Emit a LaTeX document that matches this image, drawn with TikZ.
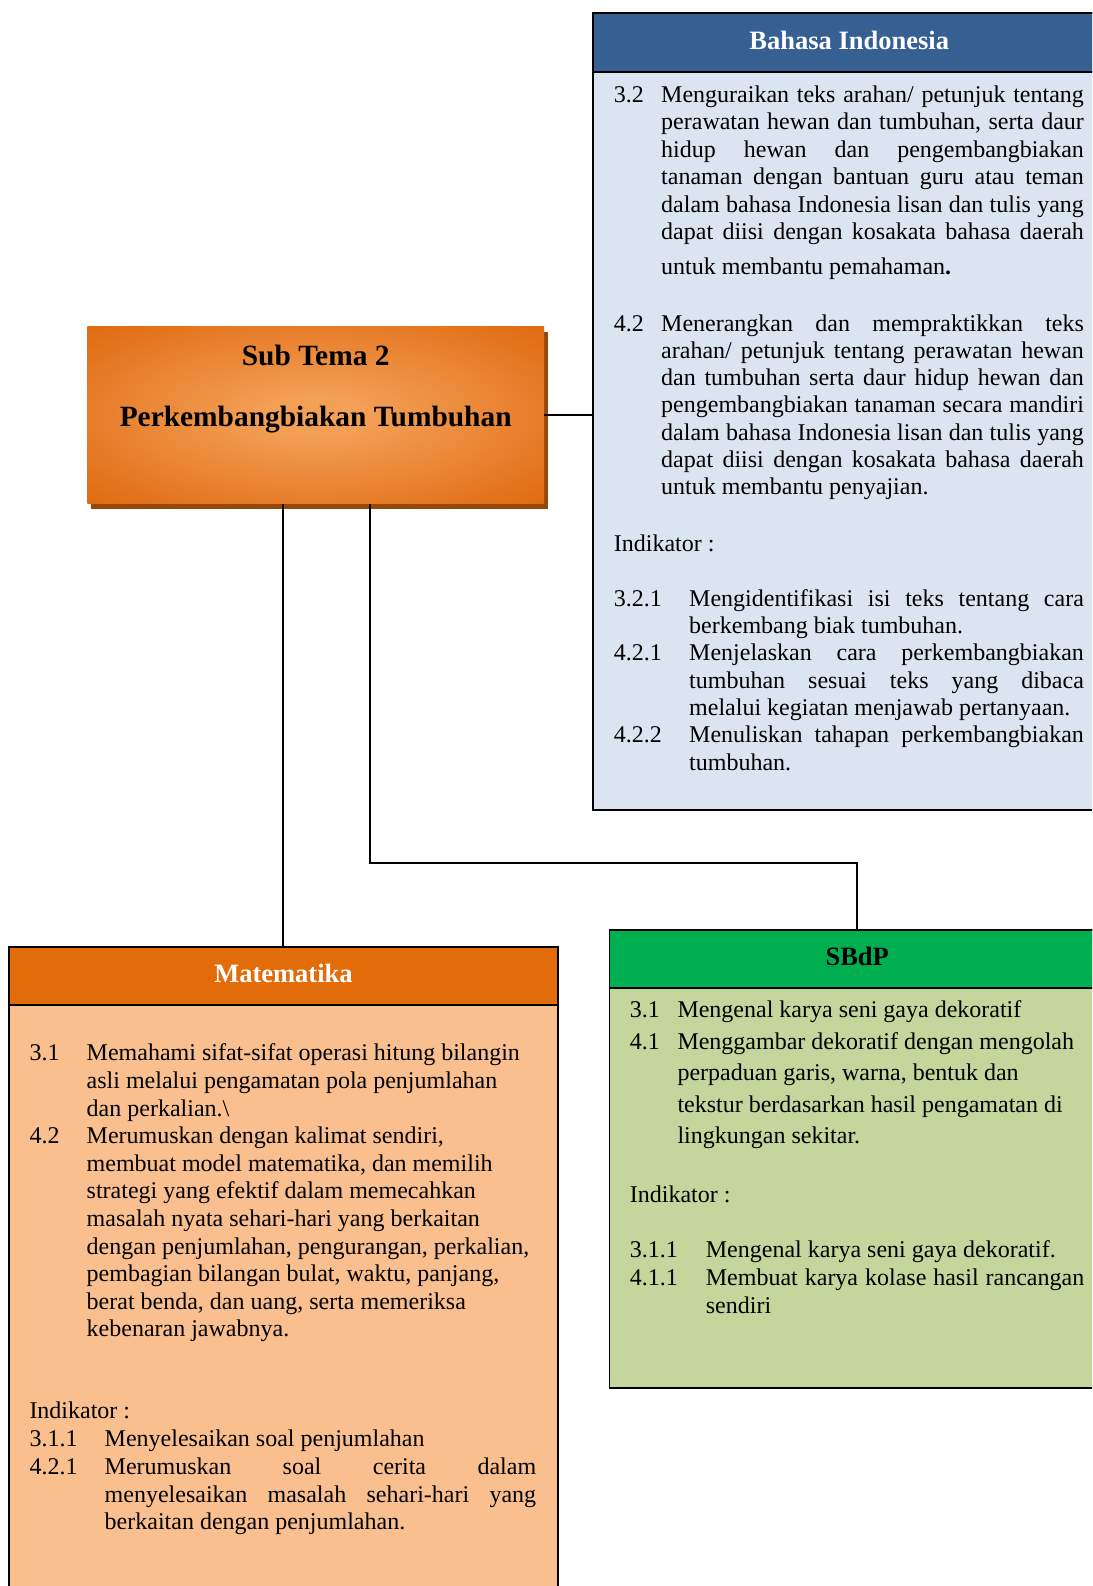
\documentclass[tikz,border=0pt]{standalone}
\usepackage{fontspec}
\setmainfont{Liberation Serif}
\usetikzlibrary{shadows}

\definecolor{biHead}{HTML}{366092}
\definecolor{biBody}{HTML}{DBE5F1}
\definecolor{mtHead}{HTML}{E36C0A}
\definecolor{mtBody}{HTML}{FABF8F}
\definecolor{sbHead}{HTML}{00B050}
\definecolor{sbBody}{HTML}{C3D69B}
\definecolor{hubIn}{HTML}{F3A057}
\definecolor{hubOut}{HTML}{E0690F}
\definecolor{hubShade}{HTML}{984807}

% soft glow for the central topic box
\pgfdeclareradialshading{hubglow}{\pgfpointorigin}{color(0bp)=(hubIn); color(5bp)=(hubIn); color(36bp)=(hubOut); color(50bp)=(hubOut)}

% lines of text: label column + justified (\Jl) or ragged (\Rl) text
\newlength\lbw
\newlength\tw
\hbadness=10000
\newcommand\Jl[2]{\hbox{\hbox to\lbw{#1\hfil}\hbox to\tw{#2}}}
\newcommand\Rl[2]{\hbox{\hbox to\lbw{#1\hfil}#2}}
\newcommand\Block[4]{\vtop{\lbw=#1\relax\tw=#2\relax\baselineskip=#3\relax\lineskiplimit=-100pt\lineskip=0pt #4}}

\tikzset{
  panel/.style={draw=black, line width=1.9pt, anchor=north west, inner sep=0pt},
  hubbox/.style={inner sep=0pt, minimum width=456.7pt, minimum height=176.6pt,
    shading=hubglow, draw=none,
    drop shadow={shadow xshift=3.5pt, shadow yshift=-5.5pt, fill=hubShade, opacity=1}},
  wire/.style={draw=black, line width=2pt},
  txt/.style={inner sep=0pt, anchor=base west, font=\fontsize{24}{27.6}\selectfont\frenchspacing},
  hdr/.style={inner sep=0pt, anchor=base, font=\fontsize{26.5}{30}\selectfont\bfseries},
  hubtxt/.style={inner sep=0pt, anchor=base, font=\fontsize{29.4}{33}\selectfont\bfseries}
}

\begin{document}
\begin{tikzpicture}[x=1pt, y=-1pt]
\useasboundingbox (0,0) rectangle (1092,1586);
\fill[white] (0,0) rectangle (1092,1586);
\clip (0,0) rectangle (1092,1586);

% central topic
\node[hubbox] (hub) at (315.7,415) {};
\node[hubtxt] (hubA) at ([yshift=50pt]hub.center) {Sub Tema 2};
\node[hubtxt] (hubB) at ([yshift=-11pt]hub.center) {Perkembangbiakan Tumbuhan};

% Bahasa Indonesia panel
\node[panel, fill=biBody, minimum width=512pt, minimum height=797.3pt] (bi) at (592.3,12) {};
\node[panel, fill=biHead, minimum width=512pt, minimum height=58.7pt] (biH) at (592.3,12) {};
\node[hdr, text=white] (biT) at ([yshift=-7pt]biH.center) {Bahasa Indonesia};

\node[txt] (bi1) at (613.7,102.3) {\Block{47.3pt}{422.7pt}{27.5pt}{%
  \Jl{3.2}{Menguraikan teks arahan/ petunjuk tentang}
  \Jl{}{perawatan hewan dan tumbuhan, serta daur}
  \Jl{}{hidup hewan dan pengembangbiakan}
  \Jl{}{tanaman dengan bantuan guru atau teman}
  \Jl{}{dalam bahasa Indonesia lisan dan tulis yang}
  \Jl{}{dapat diisi dengan kosakata bahasa daerah}
  \vskip7.5pt
  \Rl{}{untuk membantu pemahaman\textbf{.}}}};

\node[txt] (bi2) at (613.7,331) {\Block{47.3pt}{422.7pt}{27.25pt}{%
  \Jl{4.2}{Menerangkan dan mempraktikkan teks}
  \Jl{}{arahan/ petunjuk tentang perawatan hewan}
  \Jl{}{dan tumbuhan serta daur hidup hewan dan}
  \Jl{}{pengembangbiakan tanaman secara mandiri}
  \Jl{}{dalam bahasa Indonesia lisan dan tulis yang}
  \Jl{}{dapat diisi dengan kosakata bahasa daerah}
  \Rl{}{untuk membantu penyajian.}}};

\node[txt] (biInd) at (613.7,551.5) {Indikator :};

\node[txt] (biI) at (613.7,606.2) {\Block{75.3pt}{394.7pt}{27.33pt}{%
  \Jl{3.2.1}{Mengidentifikasi isi teks tentang cara}
  \Rl{}{berkembang biak tumbuhan.}
  \Jl{4.2.1}{Menjelaskan cara perkembangbiakan}
  \Jl{}{tumbuhan sesuai teks yang dibaca}
  \Rl{}{melalui kegiatan menjawab pertanyaan.}
  \Jl{4.2.2}{Menuliskan tahapan perkembangbiakan}
  \Rl{}{tumbuhan.}}};

% Matematika panel
\node[panel, fill=mtBody, minimum width=549pt, minimum height=700pt] (mt) at (8,946) {};
\node[panel, fill=mtHead, minimum width=549pt, minimum height=58pt] (mtH) at (8,946) {};
\node[hdr, text=white] (mtT) at ([yshift=-7pt]mtH.center) {Matematika};

\node[txt] (mt1) at (29.3,1060.8) {\Block{57.2pt}{400pt}{27.6pt}{%
  \Rl{3.1}{Memahami sifat-sifat operasi hitung bilangin}
  \Rl{}{asli melalui pengamatan pola penjumlahan}
  \Rl{}{dan perkalian.\textbackslash}
  \Rl{4.2}{Merumuskan dengan kalimat sendiri,}
  \Rl{}{membuat model matematika, dan memilih}
  \Rl{}{strategi yang efektif dalam memecahkan}
  \Rl{}{masalah nyata sehari-hari yang berkaitan}
  \Rl{}{dengan penjumlahan, pengurangan, perkalian,}
  \Rl{}{pembagian bilangan bulat, waktu, panjang,}
  \Rl{}{berat benda, dan uang, serta memeriksa}
  \Rl{}{kebenaran jawabnya.}}};

\node[txt] (mtInd) at (29.3,1418.8) {Indikator :};

\node[txt] (mtI) at (29.3,1446.8) {\Block{75.2pt}{431.5pt}{27.7pt}{%
  \Rl{3.1.1}{Menyelesaikan soal penjumlahan}
  \Jl{4.2.1}{Merumuskan soal cerita dalam}
  \Jl{}{menyelesaikan masalah sehari-hari yang}
  \Rl{}{berkaitan dengan penjumlahan.}}};

% SBdP panel
\node[panel, fill=sbBody, minimum width=495.5pt, minimum height=457.7pt] (sb) at (608.5,929) {};
\node[panel, fill=sbHead, minimum width=495.5pt, minimum height=57.7pt] (sbH) at (608.5,929) {};
\node[hdr, text=black] (sbT) at ([yshift=-7pt]sbH.center) {SBdP};

\node[txt] (sb1) at (629.7,1017.8) {\Block{47.6pt}{400pt}{31.5pt}{%
  \Rl{3.1}{Mengenal karya seni gaya dekoratif}
  \Rl{4.1}{Menggambar dekoratif dengan mengolah}
  \Rl{}{perpaduan garis, warna, bentuk dan}
  \Rl{}{tekstur berdasarkan hasil pengamatan di}
  \Rl{}{lingkungan sekitar.}}};

\node[txt] (sbInd) at (629.7,1202.5) {Indikator :};

\node[txt] (sbI) at (629.7,1257.5) {\Block{76pt}{378.3pt}{27.75pt}{%
  \Rl{3.1.1}{Mengenal karya seni gaya dekoratif.}
  \Jl{4.1.1}{Membuat karya kolase hasil rancangan}
  \Rl{}{sendiri}}};

% connectors
\coordinate (bend) at (370,862.7);
\draw[wire] (hub.east) -- (hub.east -| bi.west);
\draw[wire] (mtH.north |- hub.south) -- (mtH.north);
\draw[wire] (bend |- hub.south) -- (bend) -| (sbH.north);
\end{tikzpicture}
\end{document}
